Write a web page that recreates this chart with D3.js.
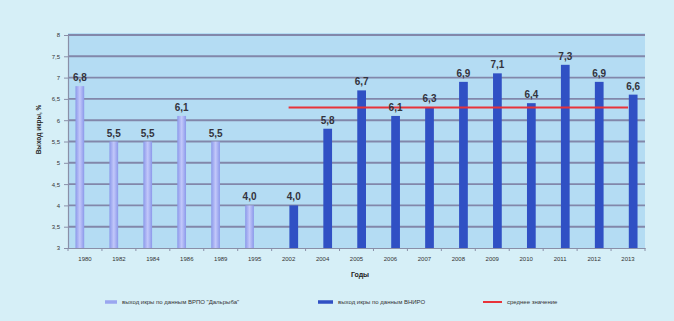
<!DOCTYPE html>
<html>
<head>
<meta charset="utf-8">
<script src="https://cdn.jsdelivr.net/npm/d3@7"></script>
<style>
  html, body { margin: 0; padding: 0; background: #d6eff7; }
  svg { display: block; }
  text { font-family: "Liberation Sans", Arial, sans-serif; }
</style>
</head>
<body>
<svg id="chart" width="674" height="321"></svg>
<script>
// Годы наблюдений
const years = ["1980", "1982", "1984", "1986", "1989", "1995", "2002", "2004", "2005",
               "2006", "2007", "2008", "2009", "2010", "2011", "2012", "2013"];
// Выход икры по данным ВРПО "Дальрыба", %
const dalrybaValues = [6.8, 5.5, 5.5, 6.1, 5.5, 4.0, null, null, null,
                       null, null, null, null, null, null, null, null];
// Выход икры по данным ВНИРО, %
const vniroValues = [null, null, null, null, null, null, 4.0, 5.8, 6.7,
                     6.1, 6.3, 6.9, 7.1, 6.4, 7.3, 6.9, 6.6];
// Среднее значение и годы, на которые оно распространяется
const averageValue = 6.3;
const averageSpan = ["2002", "2013"];
// Деления оси Y
const yTicks = [3, 3.5, 4, 4.5, 5, 5.5, 6, 6.5, 7, 7.5, 8];
const seriesNames = ["выход икры по данным ВРПО \"Дальрыба\"", "выход икры по данным ВНИРО", "среднее значение"];

const svg = d3.select("#chart");
const plot = { left: 68, right: 645, top: 35, bottom: 248 };
const fmt = v => d3.format(".1f")(v).replace(".", ",");
const fmtTick = v => String(v).replace(".", ",");

const x = d3.scaleBand().domain(years).range([plot.left, plot.right]).padding(0);
const bw = x.bandwidth();
const xs = d3.scaleBand().domain(["d", "v"]).range([bw / 2 - 9.5, bw / 2 + 9.5]).paddingInner(0.15);
const y = d3.scaleLinear().domain([3, 8]).range([plot.bottom, plot.top]);

// Plot area
svg.append("rect")
  .attr("x", plot.left).attr("y", plot.top - 2)
  .attr("width", plot.right - plot.left).attr("height", plot.bottom - plot.top + 2)
  .attr("fill", "#b4dcf3");

// Gridlines
svg.append("g")
  .selectAll("line")
  .data(yTicks.filter(t => t > 3))
  .join("line")
  .attr("x1", plot.left).attr("x2", plot.right)
  .attr("y1", d => y(d)).attr("y2", d => y(d))
  .attr("stroke", "#8287aa").attr("stroke-width", 1.9);

// Y axis
const yAxis = svg.append("g")
  .attr("transform", `translate(${plot.left},0)`)
  .call(d3.axisLeft(y).tickValues(yTicks).tickFormat(fmtTick).tickSize(4).tickPadding(4));
yAxis.select(".domain").attr("stroke", "#8a8fa8").attr("stroke-width", 1.2);
yAxis.selectAll(".tick line").attr("stroke", "#8a8fa8");
yAxis.selectAll("text").attr("font-size", 6).attr("fill", "#333");

// X axis
const xAxis = svg.append("g")
  .attr("transform", `translate(0,${plot.bottom})`)
  .call(d3.axisBottom(x).tickSize(0).tickPadding(9));
xAxis.select(".domain").attr("stroke", "#8a8fa8").attr("stroke-width", 1.2);
xAxis.selectAll("text").attr("font-size", 6).attr("fill", "#333");
// category separators below the axis
svg.append("g")
  .selectAll("line")
  .data(years.concat(["end"]))
  .join("line")
  .attr("x1", (d, i) => plot.left + i * bw).attr("x2", (d, i) => plot.left + i * bw)
  .attr("y1", plot.bottom).attr("y2", plot.bottom + 3)
  .attr("stroke", "#8a8fa8");

// Bars: ВРПО "Дальрыба"
const gradLight = svg.append("defs").append("linearGradient").attr("id", "gLight");
gradLight.append("stop").attr("offset", "0%").attr("stop-color", "#8b98ea");
gradLight.append("stop").attr("offset", "50%").attr("stop-color", "#c2c8fa");
gradLight.append("stop").attr("offset", "100%").attr("stop-color", "#8b98ea");

const dData = years.map((yr, i) => ({ yr, v: dalrybaValues[i] })).filter(d => d.v != null);
const vData = years.map((yr, i) => ({ yr, v: vniroValues[i] })).filter(d => d.v != null);

svg.append("g").selectAll("rect").data(dData).join("rect")
  .attr("x", d => x(d.yr) + xs("d"))
  .attr("width", xs.bandwidth())
  .attr("y", d => y(d.v))
  .attr("height", d => plot.bottom - y(d.v))
  .attr("fill", "url(#gLight)");

// Bars: ВНИРО
svg.append("g").selectAll("rect").data(vData).join("rect")
  .attr("x", d => x(d.yr) + xs("v"))
  .attr("width", xs.bandwidth())
  .attr("y", d => y(d.v))
  .attr("height", d => plot.bottom - y(d.v))
  .attr("fill", "#3050c4");

// Average line
svg.append("line")
  .attr("x1", x(averageSpan[0]) + bw / 2)
  .attr("x2", x(averageSpan[1]) + bw / 2)
  .attr("y1", y(averageValue)).attr("y2", y(averageValue))
  .attr("stroke", "#e8333a").attr("stroke-width", 2);

// Value labels
const labelG = svg.append("g").attr("font-size", 10).attr("font-weight", "bold")
  .attr("fill", "#33333d").attr("text-anchor", "middle");
labelG.selectAll("text.d").data(dData).join("text").attr("class", "d")
  .attr("x", d => x(d.yr) + xs("d") + xs.bandwidth() / 2)
  .attr("y", d => y(d.v) - 5)
  .text(d => fmt(d.v));
labelG.selectAll("text.v").data(vData).join("text").attr("class", "v")
  .attr("x", d => x(d.yr) + xs("v") + xs.bandwidth() / 2)
  .attr("y", d => y(d.v) - 5)
  .text(d => fmt(d.v));

// Axis titles
svg.append("text")
  .attr("transform", `translate(41,${(plot.top + plot.bottom) / 2 - 12}) rotate(-90)`)
  .attr("text-anchor", "middle").attr("font-size", 6.5).attr("font-weight", "bold")
  .attr("fill", "#222").text("Выход икры, %");
svg.append("text")
  .attr("x", 360).attr("y", 277)
  .attr("text-anchor", "middle").attr("font-size", 7).attr("font-weight", "bold")
  .attr("fill", "#222").text("Годы");

// Legend
const legendItems = [
  { name: seriesNames[0], color: "#9aa6f0", x: 105, w: 12, h: 3.5 },
  { name: seriesNames[1], color: "#3050c4", x: 318, w: 15, h: 3.5 },
  { name: seriesNames[2], color: "#e8333a", x: 483, w: 19, h: 2 }
];
const leg = svg.append("g").attr("transform", "translate(0,303)");
leg.selectAll("rect").data(legendItems).join("rect")
  .attr("x", d => d.x).attr("y", d => -d.h / 2 - 1)
  .attr("width", d => d.w).attr("height", d => d.h)
  .attr("fill", d => d.color);
leg.selectAll("text").data(legendItems).join("text")
  .attr("x", d => d.x + d.w + 5).attr("y", 1)
  .attr("font-size", 6).attr("fill", "#333")
  .text(d => d.name);
</script>
</body>
</html>
